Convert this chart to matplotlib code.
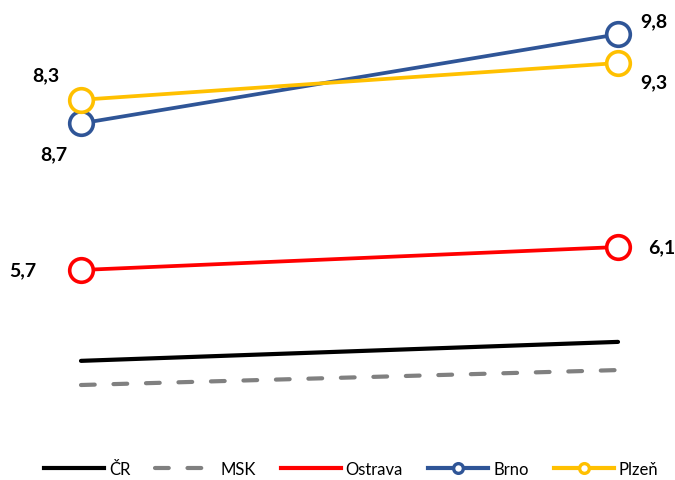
import matplotlib.pyplot as plt
from matplotlib.lines import Line2D

plt.rcParams['font.family'] = ['Lato', 'DejaVu Sans']

# two time points
years = [0, 1]
cr = [4.12, 4.45]
msk = [3.70, 3.96]
ostrava = [5.7, 6.1]
brno = [8.25, 9.8]
plzen = [8.66, 9.3]

# value labels as printed in the chart
ostrava_labels = ['5,7', '6,1']
brno_labels = ['8,7', '9,8']
plzen_labels = ['8,3', '9,3']

c_cr, c_msk, c_ost, c_brno, c_plz = 'black', '#808080', '#FF0000', '#2F5597', '#FFC000'
lw = 3

fig = plt.figure(figsize=(6.75, 4.81), dpi=100)
ax = fig.add_axes([0, 0, 1, 1])

ax.plot(years, cr, color=c_cr, lw=lw, solid_capstyle='round')
ax.plot(years, msk, color=c_msk, lw=lw, ls=(0, (3.3, 4.5)), dash_capstyle='round')
mk = dict(marker='o', ms=17, mfc='white', mew=2.6)
ax.plot(years, ostrava, color=c_ost, lw=2.7, **mk)
ax.plot(years, brno, color=c_brno, lw=2.7, **mk)
ax.plot(years, plzen, color=c_plz, lw=2.7, **mk)

lab = dict(fontsize=14, fontweight='bold', ha='center', va='center',
           textcoords='offset points')
ax.annotate(ostrava_labels[0], (0, ostrava[0]), xytext=(-42, 0), **lab)
ax.annotate(ostrava_labels[1], (1, ostrava[1]), xytext=(31.5, 0), **lab)
ax.annotate(plzen_labels[0], (0, plzen[0]), xytext=(-25.5, 18), **lab)
ax.annotate(brno_labels[0], (0, brno[0]), xytext=(-19.5, -22), **lab)
ax.annotate(brno_labels[1], (1, brno[1]), xytext=(26, 10), **lab)
ax.annotate(plzen_labels[1], (1, plzen[1]), xytext=(26, -13.5), **lab)

ax.set_xlim(-0.1508, 1.1061)
ax.set_ylim(2.048, 10.413)
ax.axis('off')

# legend: Ostrava shown without marker, as in the original
handles = [
    Line2D([], [], color=c_cr, lw=lw),
    Line2D([], [], color=c_msk, lw=lw, ls=(0, (3.3, 4.5)), dash_capstyle='round'),
    Line2D([], [], color=c_ost, lw=lw),
    Line2D([], [], color=c_brno, lw=lw, marker='o', ms=7, mfc='white', mew=2.4),
    Line2D([], [], color=c_plz, lw=lw, marker='o', ms=7, mfc='white', mew=2.4),
]
labels = ['ČR', 'MSK', 'Ostrava', 'Brno', 'Plzeň']
fig.legend(handles, labels, loc='center', bbox_to_anchor=(0.52, 0.023),
           ncol=5, frameon=False, fontsize=12, handlelength=3.6,
           columnspacing=1.5, handletextpad=0.3)

fig.savefig('out.png', dpi=100)
